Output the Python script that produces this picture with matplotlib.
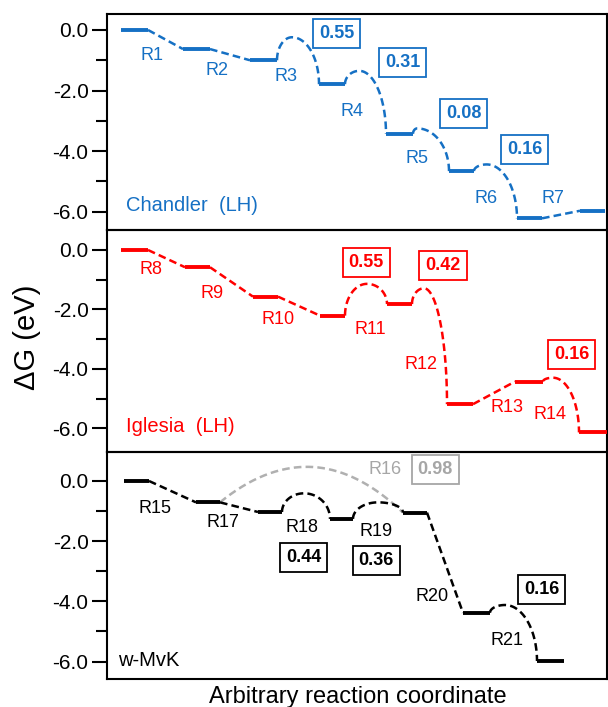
import numpy as np
import matplotlib
matplotlib.use("Agg")
import matplotlib.pyplot as plt

plt.rcParams['font.family'] = ['Liberation Sans', 'DejaVu Sans']
plt.rcParams['lines.scale_dashes'] = False

# ---------------- data ----------------
# Chandler (LH)
ch_E = [0.0, -0.63, -1.0, -1.79, -3.43, -4.66, -6.22, -5.97]
ch_x0 = [1.37, 7.57, 14.27, 21.17, 27.87, 34.17, 40.97, 47.27]
ch_x1 = [4.07, 10.27, 16.97, 23.77, 30.57, 36.67, 43.47, 49.77]
ch_ts_E = [None, None, -0.24, -1.35, -3.25, -4.44, None]
ch_ts_x = [None, None, 18.47, 25.2, 31.0, 37.94, None]
ch_steps = ['R1', 'R2', 'R3', 'R4', 'R5', 'R6', 'R7']
ch_barriers = ['0.55', '0.31', '0.08', '0.16']

# Iglesia (LH)
ig_E = [0.0, -0.58, -1.57, -2.21, -1.82, -5.19, -4.43, -6.14]
ig_x0 = [1.37, 7.77, 14.57, 21.27, 27.97, 33.97, 40.77, 47.17]
ig_x1 = [4.07, 10.27, 17.07, 23.77, 30.47, 36.57, 43.57, 49.97]
ig_ts_E = [None, None, None, -1.14, -1.29, None, -4.30]
ig_ts_x = [None, None, None, 25.97, 31.67, None, 44.57]
ig_steps = ['R8', 'R9', 'R10', 'R11', 'R12', 'R13', 'R14']
ig_barriers = ['0.55', '0.42', '0.16']

# w-MvK
mvk_E = [0.0, -0.71, -1.03, -1.26, -1.05, -4.38, -5.98]
mvk_x0 = [1.67, 8.87, 15.07, 22.27, 29.57, 35.57, 42.97]
mvk_x1 = [4.17, 11.27, 17.47, 24.57, 31.97, 38.27, 45.67]
mvk_ts_E = [None, None, -0.41, -0.71, None, -4.12]
mvk_ts_x = [None, None, 19.67, 27.07, None, 39.77]
mvk_steps = ['R15', 'R17', 'R18', 'R19', 'R20', 'R21']
mvk_barriers = ['0.44', '0.36', '0.16']
# direct route R16 (from level 2 to level 5)
r16_from, r16_to = 1, 4
r16_ts_E = 0.47
r16_ts_x = 19.97
r16_step = 'R16'
r16_barrier = '0.98'

# ---------------- layout (text positions, styles) ----------------
ch_step_pos = [(4.47, -0.83), (10.97, -1.35), (17.87, -1.55), (24.47, -2.68),
               (30.97, -4.23), (37.87, -5.58), (44.57, -5.58)]
ch_box_pos = [(22.95, -0.13), (29.55, -1.08), (35.65, -2.77), (41.75, -3.94)]
ig_step_pos = [(4.37, -0.65), (10.5, -1.46), (17.04, -2.33), (26.27, -2.66),
               (31.34, -3.85), (39.94, -5.31), (44.27, -5.53)]
ig_box_pos = [(25.89, -0.41), (33.57, -0.51), (46.45, -3.53)]
mvk_step_pos = [(4.77, -0.91), (11.54, -1.39), (19.44, -1.54), (26.84, -1.68),
                (32.44, -3.84), (39.94, -5.31)]
mvk_box_pos = [(19.64, -2.54), (26.9, -2.63), (43.44, -3.60)]
r16_step_pos = (27.77, 0.37)
r16_box_pos = (32.8, 0.39)

BLUE = '#1570C4'
RED = '#FF0000'
BLACK = '#000000'
GRAY = '#B0B0B0'
GRAY_TXT = '#A6A6A6'

LEVEL_LW = 2.8
DASH_LW = 1.8
DASHES = (5.5, 3.0)
STEP_FS = 13
BOX_FS = 13
NAME_FS = 14.5


def barrier_curve(xa, ya, xp, yp, xb, yb, n=60):
    t = np.linspace(0, np.pi / 2, n)
    lx = xp - (xp - xa) * np.cos(t)
    ly = ya + (yp - ya) * np.sin(t)
    rx = xp + (xb - xp) * np.sin(t)
    ry = yb + (yp - yb) * np.cos(t)
    return np.concatenate([lx, rx[1:]]), np.concatenate([ly, ry[1:]])


def parabola_arc(xa, ya, xp, yp, xb, yb, n=80):
    lx = np.linspace(xa, xp, n)
    ly = yp - (yp - ya) * ((lx - xp) / (xa - xp)) ** 2
    rx = np.linspace(xp, xb, n)
    ry = yp - (yp - yb) * ((rx - xp) / (xb - xp)) ** 2
    return np.concatenate([lx, rx[1:]]), np.concatenate([ly, ry[1:]])


def draw_profile(ax, E, x0, x1, tsE, tsx, color):
    for i in range(len(E)):
        ax.plot([x0[i], x1[i]], [E[i], E[i]], color=color, lw=LEVEL_LW,
                solid_capstyle='butt', zorder=3)
    for i in range(len(E) - 1):
        if tsE[i] is None:
            xs = [x1[i], x0[i + 1]]
            ys = [E[i], E[i + 1]]
        else:
            xs, ys = barrier_curve(x1[i], E[i], tsx[i], tsE[i], x0[i + 1], E[i + 1])
        ax.plot(xs, ys, color=color, lw=DASH_LW, ls=(0, DASHES),
                dash_capstyle='butt', zorder=2)


def box_label(ax, pos, txt, color):
    ax.text(pos[0], pos[1], txt, color=color, fontsize=BOX_FS, fontweight='bold',
            ha='center', va='center', zorder=5,
            bbox=dict(boxstyle='square,pad=0.33', fc='white', ec=color, lw=1.3))


fig = plt.figure(figsize=(6.08, 7.07), dpi=100)
L, W = 107.3 / 608, (607 - 107.3) / 608
ax1 = fig.add_axes([L, 0.67468, W, 0.30552])
ax2 = fig.add_axes([L, 0.36110, W, 0.31358])
ax3 = fig.add_axes([L, 0.03918, W, 0.32192])

ylims = [(-6.605, 0.528), (-6.79, 0.673), (-6.588, 0.973)]
for ax, yl in zip([ax1, ax2, ax3], ylims):
    ax.set_xlim(0, 49.97)
    ax.set_ylim(*yl)
    ax.set_xticks([])
    ax.set_yticks([0, -2, -4, -6])
    ax.set_yticklabels(['%.1f' % v for v in [0, -2, -4, -6]])
    ax.set_yticks([-1, -3, -5], minor=True)
    ax.tick_params(axis='y', which='major', length=10.5, width=1.5,
                   labelsize=15, pad=3)
    ax.tick_params(axis='y', which='minor', length=7.7, width=1.5)
    for s in ax.spines.values():
        s.set_linewidth(1.5)
    ax.patch.set_alpha(0)

# Chandler
draw_profile(ax1, ch_E, ch_x0, ch_x1, ch_ts_E, ch_ts_x, BLUE)
for lab, p in zip(ch_steps, ch_step_pos):
    ax1.text(p[0], p[1], lab, color=BLUE, fontsize=STEP_FS, ha='center', va='center')
for lab, p in zip(ch_barriers, ch_box_pos):
    box_label(ax1, p, lab, BLUE)
ax1.text(1.87, -5.78, 'Chandler  (LH)', color=BLUE, fontsize=NAME_FS,
         ha='left', va='center')

# Iglesia
draw_profile(ax2, ig_E, ig_x0, ig_x1, ig_ts_E, ig_ts_x, RED)
for lab, p in zip(ig_steps, ig_step_pos):
    ax2.text(p[0], p[1], lab, color=RED, fontsize=STEP_FS, ha='center', va='center')
for lab, p in zip(ig_barriers, ig_box_pos):
    box_label(ax2, p, lab, RED)
ax2.text(1.87, -5.93, 'Iglesia  (LH)', color=RED, fontsize=NAME_FS,
         ha='left', va='center')

# w-MvK
gx, gy = parabola_arc(mvk_x1[r16_from], mvk_E[r16_from], r16_ts_x, r16_ts_E,
                      mvk_x0[r16_to], mvk_E[r16_to])
ax3.plot(gx, gy, color=GRAY, lw=DASH_LW, ls=(0, DASHES), dash_capstyle='butt', zorder=1)
draw_profile(ax3, mvk_E, mvk_x0, mvk_x1, mvk_ts_E, mvk_ts_x, BLACK)
for lab, p in zip(mvk_steps, mvk_step_pos):
    ax3.text(p[0], p[1], lab, color=BLACK, fontsize=STEP_FS, ha='center', va='center')
for lab, p in zip(mvk_barriers, mvk_box_pos):
    box_label(ax3, p, lab, BLACK)
ax3.text(r16_step_pos[0], r16_step_pos[1], r16_step, color=GRAY_TXT,
         fontsize=STEP_FS, ha='center', va='center')
box_label(ax3, r16_box_pos, r16_barrier, GRAY_TXT)
ax3.text(1.1, -5.97, 'w-MvK', color=BLACK, fontsize=NAME_FS, ha='left', va='center')

fig.text(358 / 608, 1 - 702.5 / 707, 'Arbitrary reaction coordinate',
         fontsize=17, ha='center', va='baseline')
fig.text(27 / 608, 1 - 337 / 707, 'ΔG (eV)', fontsize=21, rotation=90,
         ha='center', va='center')

fig.savefig('out.png', dpi=100)
